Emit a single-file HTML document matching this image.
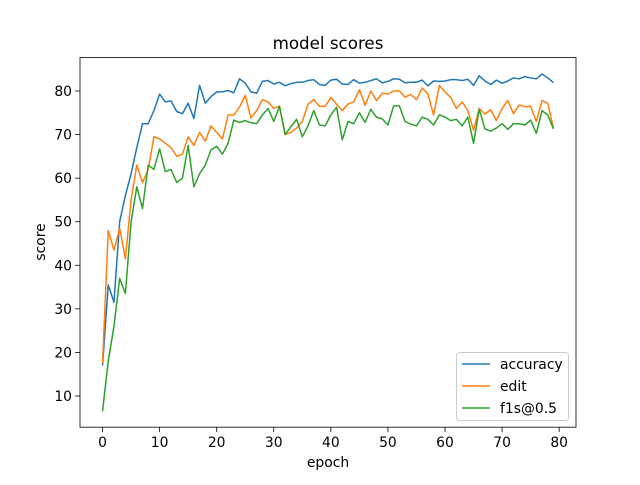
<!DOCTYPE html>
<html><head><meta charset="utf-8"><style>
body{margin:0;background:#fff;font-family:"Liberation Sans","DejaVu Sans",sans-serif}
svg text{font-family:"DejaVu Sans","Liberation Sans",sans-serif}
</style></head><body>
<svg id="chart" width="640" height="480" viewBox="0 0 640 480" xmlns="http://www.w3.org/2000/svg">
<rect width="640" height="480" fill="#fff"/>
<text x="328" y="49" font-size="16.7" text-anchor="middle">model scores</text>
<g id="plot"></g>
<rect x="80" y="57.6" width="496" height="369.6" fill="none" stroke="#000" stroke-width="0.8"/>
<g id="xticks"></g><g id="yticks"></g>
<text x="328" y="467" font-size="13.9" text-anchor="middle">epoch</text>
<text x="0" y="0" font-size="13.9" text-anchor="middle" transform="translate(45,242) rotate(-90)">score</text>
<g id="legend">
<rect x="456.5" y="352.5" width="112" height="68" rx="3" fill="#fff" fill-opacity="0.8" stroke="#ccc" stroke-width="1"/>
</g>
</svg>
<script>
const epochs=[...Array(80).keys()];
const accuracy=[17,35.5,31.5,50,56,61,67,72.5,72.5,75.5,79.3,77.5,77.7,75.3,74.8,77.2,73.7,81.3,77.2,78.7,79.8,79.8,80.1,79.6,82.8,81.8,79.8,79.5,82.2,82.4,81.6,82,81.2,81.7,82,82,82.4,82.6,81.5,81.3,82.5,82.7,81.6,81.5,82.6,81.8,82,82.4,82.8,81.9,82.2,82.8,82.7,81.9,82,82,82.5,81.2,82.3,82.2,82.3,82.6,82.6,82.4,82.7,81.3,83.5,82.3,81.5,82.5,81.8,82.3,83,82.8,83.3,83,82.8,83.9,83,81.9];
const edit=[17.5,48,43.5,48.5,41.5,55,63,59,62,69.5,69,68,67,65,65.5,69.5,67.5,70.5,68.5,72,70.5,69,74.5,74.5,76.3,79,73.8,75.5,78,77.5,76,76.5,70,70.5,71.5,73,77,78,76.5,76.5,78.5,77,75.5,77,77.5,80.3,76.7,80,77.8,79.5,79.3,80,80,78.6,79.2,78,80.7,79.3,74.5,81.3,79.8,78.5,76,77.5,75.5,71,76,74.7,75.7,73.2,76,77.8,74.8,76.8,76.4,76.5,73,77.8,77.2,71.5];
const f1s=[6.5,18,26,37,33.5,50,58,53,63,62,66.7,61.5,62,59,60,67.5,58,61,63,66.5,67.3,65.5,68,73.3,72.8,73.2,72.7,72.5,74.5,76,73,76.5,70,71.8,73.5,69.5,72,75.5,72.2,72,74.5,76.3,68.8,73,72.5,75,72.8,75.8,74,73.6,72.2,76.6,76.6,73,72.4,72,74,73.5,72.2,74.5,74,73.2,73.5,72,74,68,75.8,71.3,70.8,71.5,72.5,71.2,72.5,72.5,72.2,73.3,70.3,75.5,74.5,71.3];
const seriesNames=["accuracy","edit","f1s@0.5"];
const xTickVals=[0,10,20,30,40,50,60,70,80];
const yTickVals=[10,20,30,40,50,60,70,80];
const colors=["#1f77b4","#ff7f0e","#2ca02c"];
const NS="http://www.w3.org/2000/svg";
function xs(v){return 80+(v+3.95)/86.9*496;}
function ys(v){return 396-(v-10)*4.357;}
function mk(t,a,p){const e=document.createElementNS(NS,t);for(const k in a)e.setAttribute(k,a[k]);p.appendChild(e);return e;}
const plot=document.getElementById('plot');
[accuracy,edit,f1s].forEach((s,i)=>{
  const d=s.map((v,j)=>(j?'L':'M')+xs(epochs[j]).toFixed(2)+','+ys(v).toFixed(2)).join('');
  const p=mk('path',{d:d,fill:'none',stroke:colors[i],'stroke-width':1.5,'stroke-linejoin':'round'},plot);
  
  
});
const xt=document.getElementById('xticks');
xTickVals.forEach(v=>{
  const x=xs(v);
  mk('line',{x1:x,x2:x,y1:427.2,y2:432.1,stroke:'#000','stroke-width':0.8},xt);
  const t=mk('text',{x:x,y:447,'font-size':13.9,'text-anchor':'middle'},xt);t.textContent=v;
  
  
});
const yt=document.getElementById('yticks');
yTickVals.forEach(v=>{
  const y=ys(v);
  mk('line',{x1:75.1,x2:80,y1:y,y2:y,stroke:'#000','stroke-width':0.8},yt);
  const t=mk('text',{x:72,y:y+5,'font-size':13.9,'text-anchor':'end'},yt);t.textContent=v;
  
  
});
const lg=document.getElementById('legend');
seriesNames.forEach((n,i)=>{
  const y=364+i*22;
  mk('line',{x1:462,x2:490,y1:y,y2:y,stroke:colors[i],'stroke-width':1.5},lg);
  const t=mk('text',{x:500,y:y+5,'font-size':13.9},lg);t.textContent=n;
  
  
});
</script>
</body></html>
